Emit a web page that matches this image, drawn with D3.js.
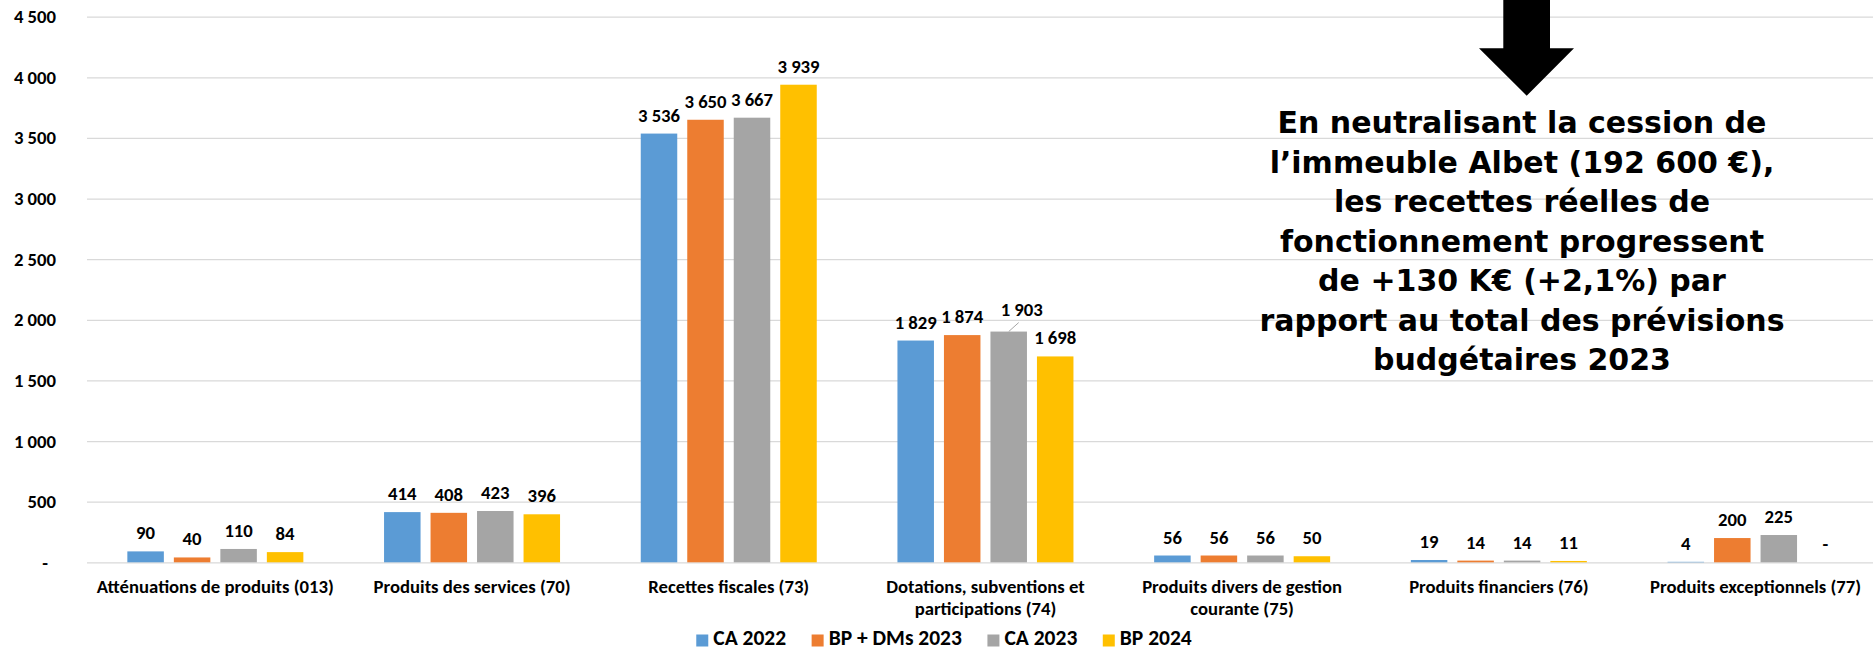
<!DOCTYPE html>
<html><head><meta charset="utf-8">
<script src="https://cdn.jsdelivr.net/npm/d3@7"></script>
<style>
body{margin:0;background:#fff;}
svg{display:block;}
</style>
</head><body>
<svg id="chart" width="1873" height="650"></svg>
<script>
// ---- data ----
const categories = [
  "Atténuations de produits (013)",
  "Produits des services (70)",
  "Recettes fiscales (73)",
  "Dotations, subventions et participations (74)",
  "Produits divers de gestion courante (75)",
  "Produits financiers (76)",
  "Produits exceptionnels (77)"
];
const seriesNames = ["CA 2022", "BP + DMs 2023", "CA 2023", "BP 2024"];
const ca2022   = [90, 414, 3536, 1829, 56, 19, 4];
const bpDm2023 = [40, 408, 3650, 1874, 56, 14, 200];
const ca2023   = [110, 423, 3667, 1903, 56, 14, 225];
const bp2024   = [84, 396, 3939, 1698, 50, 11, 0];
const yTicks = [0, 500, 1000, 1500, 2000, 2500, 3000, 3500, 4000, 4500];
const annotationLines = [
  "En neutralisant la cession de",
  "l’immeuble Albet (192 600 €),",
  "les recettes réelles de",
  "fonctionnement progressent",
  "de +130 K€ (+2,1%) par",
  "rapport au total des prévisions",
  "budgétaires 2023"
];

// ---- styles ----
const colors = ["#5B9BD5", "#ED7D31", "#A5A5A5", "#FFC000"];
const FONT = "Carlito, Calibri, Lato, sans-serif";
const FS = "18.7px";
const seriesValues = [ca2022, bpDm2023, ca2023, bp2024];

const svg = d3.select("#chart");
const plotLeft = 87, step = 256.7;
const plotRight = plotLeft + categories.length * step;

const locale = d3.formatLocale({decimal: ",", thousands: "\u00a0", grouping: [3], currency: ["", " €"]});
const fmtNum = locale.format(",.0f");
const fmt = v => v === 0 ? "-" : fmtNum(v);

const y = d3.scaleLinear().domain([0, 4500]).range([562.3, 16.7]);
const x0 = d3.scaleBand().domain(categories).range([plotLeft, plotRight]).padding(0);
const groupW = 186;
const x1 = d3.scaleBand().domain(seriesNames).range([0, groupW]).paddingInner(0.215).paddingOuter(0.1075);
const gOff = (x0.bandwidth() - groupW) / 2;

// grid + y axis
const yAxis = d3.axisLeft(y).tickValues(yTicks).tickFormat(fmt)
  .tickSize(-(plotRight - plotLeft)).tickPadding(31);
const ga = svg.append("g").attr("transform", `translate(${plotLeft},0)`).call(yAxis);
ga.select(".domain").remove();
ga.selectAll(".tick line").attr("stroke", "#d9d9d9").attr("stroke-width", 1.3);
ga.selectAll(".tick text")
  .attr("fill", "#000").style("font-family", FONT).style("font-weight", "bold").style("font-size", FS)
  .attr("dx", d => d === 0 ? -8 : 0);

// bars
const rows = [];
categories.forEach((c, i) => seriesNames.forEach((s, j) => rows.push({c, s, j, i, v: seriesValues[j][i]})));

svg.append("g").selectAll("rect").data(rows).join("rect")
  .attr("x", d => x0(d.c) + gOff + x1(d.s))
  .attr("width", x1.bandwidth())
  .attr("y", d => y(d.v))
  .attr("height", d => y(0) - y(d.v))
  .attr("fill", d => colors[d.j]);

// data labels
const special = (d) => d.i === 3 && d.j === 2; // 1 903 label pushed aside with leader line
const lbl = svg.append("g");
lbl.selectAll("line").data(rows.filter(special)).join("line")
  .attr("x1", d => x0(d.c) + gOff + x1(d.s) + x1.bandwidth() / 2)
  .attr("y1", d => y(d.v))
  .attr("x2", d => x0(d.c) + gOff + x1(d.s) + x1.bandwidth() / 2 + 10)
  .attr("y2", d => y(d.v) - 9)
  .attr("stroke", "#a6a6a6").attr("stroke-width", 1);
lbl.selectAll("text").data(rows).join("text")
  .attr("x", d => x0(d.c) + gOff + x1(d.s) + x1.bandwidth() / 2 + (special(d) ? 13 : 0))
  .attr("y", d => y(d.v) - 12 - (special(d) ? 4 : 0))
  .attr("text-anchor", "middle")
  .style("font-family", FONT).style("font-weight", "bold").style("font-size", FS)
  .text(d => fmt(d.v));

// category labels (wrapped)
const cg = svg.append("g");
categories.forEach(c => {
  const cx = x0(c) + x0.bandwidth() / 2;
  const t = cg.append("text").attr("x", cx).attr("y", 592.5)
    .attr("text-anchor", "middle")
    .style("font-family", FONT).style("font-weight", "bold").style("font-size", FS);
  const words = c.split(" ");
  let line = [];
  let ts = t.append("tspan").attr("x", cx).attr("dy", 0);
  words.forEach(w => {
    line.push(w);
    ts.text(line.join(" "));
    if (ts.node().getComputedTextLength() > 248 && line.length > 1) {
      line.pop();
      ts.text(line.join(" "));
      line = [w];
      ts = t.append("tspan").attr("x", cx).attr("dy", 22.5).text(w);
    }
  });
});

// legend
const lg = svg.append("g");
let lx = 0;
seriesNames.forEach((s, j) => {
  const g = lg.append("g").attr("transform", `translate(${lx},0)`);
  g.append("rect").attr("x", 0).attr("y", -10.5).attr("width", 12).attr("height", 12).attr("fill", colors[j]);
  const t = g.append("text").attr("x", 17).attr("y", 0)
    .style("font-family", FONT).style("font-weight", "bold").style("font-size", "21.5px").text(s);
  lx += 17 + t.node().getComputedTextLength() + 25.5;
});
const legendW = lx - 25.5;
lg.attr("transform", `translate(${944 - legendW / 2},645)`);

// annotation arrow
svg.append("path")
  .attr("d", "M1503.3,-5 L1550,-5 L1550,48.3 L1574,48.3 L1526.7,95.7 L1479,48.3 L1503.3,48.3 Z")
  .attr("fill", "#000");

// annotation text
const at = svg.append("g");
annotationLines.forEach((l, i) => {
  at.append("text").attr("x", 1522).attr("y", 133 + i * 39.5)
    .attr("text-anchor", "middle")
    .style("font-family", "'DejaVu Sans', Verdana, sans-serif").style("font-weight", "bold").style("font-size", "30px")
    .text(l);
});
</script>
</body></html>
